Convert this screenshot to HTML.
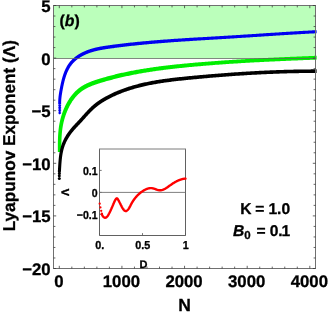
<!DOCTYPE html>
<html><head><meta charset="utf-8"><title>Lyapunov Exponent</title>
<style>html,body{margin:0;padding:0;background:#fff}body{width:328px;height:312px;overflow:hidden}svg text{fill:#000;stroke:#000;stroke-width:.3px;stroke-linejoin:round}</style></head>
<body>
<svg width="328" height="312" viewBox="0 0 328 312" style="display:block;will-change:transform;text-rendering:geometricPrecision;font-family:'Liberation Sans',sans-serif;font-weight:bold">
<rect width="328" height="312" fill="#fff"/>
<rect x="53.5" y="5.5" width="262.0" height="53.0" fill="#bbffbb"/>
<clipPath id="cc"><rect x="50" y="0" width="266.6" height="312"/></clipPath><g clip-path="url(#cc)">
<path d="M61.18,104.46 L61.17,104.15 L61.16,103.86 L61.15,103.56 L61.14,103.27 L61.13,102.98 L61.13,102.69 L61.13,102.39 L61.14,102.10 L61.15,101.81 L61.16,101.53 L61.17,101.24 L61.19,100.95 L61.20,100.66 L61.22,100.38 L61.24,100.09 L61.26,99.80 L61.28,99.52 L61.30,99.23 L61.33,98.95 L61.35,98.67 L61.38,98.38 L61.41,98.10 L61.44,97.81 L61.47,97.53 L61.50,97.25 L61.54,96.96 L61.57,96.68 L61.61,96.40 L61.65,96.12 L61.68,95.83 L61.72,95.55 L61.76,95.27 L61.81,94.98 L61.85,94.70 L61.89,94.41 L61.94,94.13 L61.98,93.84 L62.03,93.56 L62.08,93.27 L62.12,92.99 L62.17,92.70 L62.22,92.41 L62.27,92.13 L62.32,91.84 L62.37,91.55 L62.42,91.26 L62.48,90.97 L62.53,90.68 L62.58,90.39 L62.64,90.10 L62.69,89.80 L62.74,89.51 L62.80,89.22 L62.85,88.93 L62.91,88.63 L62.97,88.34 L63.02,88.05 L63.08,87.75 L63.14,87.46 L63.20,87.16 L63.25,86.87 L63.31,86.57 L63.37,86.28 L63.44,85.98 L63.50,85.69 L63.56,85.39 L63.62,85.10 L63.69,84.80 L63.75,84.51 L63.82,84.21 L63.88,83.92 L63.95,83.63 L64.02,83.33 L64.09,83.04 L64.16,82.74 L64.23,82.45 L64.30,82.16 L64.37,81.87 L64.44,81.57 L64.52,81.28 L64.59,80.99 L64.67,80.70 L64.74,80.41 L64.82,80.12 L64.90,79.83 L64.98,79.54 L65.06,79.25 L65.14,78.96 L65.23,78.67 L65.31,78.39 L65.40,78.10 L65.49,77.82 L65.57,77.53 L65.66,77.25 L65.75,76.96 L65.84,76.68 L65.94,76.40 L66.03,76.12 L66.13,75.84 L66.22,75.56 L66.32,75.28 L66.42,75.00 L66.52,74.73 L66.62,74.45 L66.73,74.18 L66.83,73.91 L66.94,73.63 L67.05,73.36 L67.16,73.09 L67.27,72.82 L67.38,72.56 L67.49,72.29 L67.61,72.03 L67.72,71.76 L67.84,71.50 L67.96,71.24 L68.08,70.98 L68.21,70.72 L68.33,70.46 L68.46,70.21 L68.58,69.95 L68.71,69.70 L68.84,69.45 L68.98,69.20 L69.11,68.95 L69.25,68.71 L69.38,68.46 L69.52,68.22 L69.67,67.98 L69.81,67.74 L69.95,67.50 L70.10,67.26 L70.25,67.03 L70.40,66.79 L70.55,66.56 L70.70,66.33 L70.86,66.11 L71.02,65.88 L71.18,65.66 L71.34,65.43 L71.50,65.21 L71.67,64.99 L71.83,64.78 L72.00,64.56 L72.17,64.35 L72.35,64.14 L72.52,63.93 L72.70,63.72 L72.88,63.52 L73.06,63.31 L73.24,63.11 L73.43,62.91 L73.61,62.71 L73.80,62.52 L74.00,62.32 L74.19,62.13 L74.38,61.93 L74.58,61.74 L74.78,61.55 L74.98,61.37 L75.18,61.18 L75.39,61.00 L75.60,60.82 L75.80,60.63 L76.01,60.46 L76.23,60.28 L76.44,60.10 L76.66,59.93 L76.87,59.75 L77.09,59.58 L77.31,59.41 L77.53,59.25 L77.76,59.08 L77.98,58.91 L78.21,58.75 L78.44,58.59 L78.67,58.43 L78.90,58.27 L79.13,58.11 L79.37,57.96 L79.60,57.80 L79.84,57.65 L80.08,57.50 L80.32,57.35 L80.56,57.20 L80.80,57.06 L81.04,56.91 L81.29,56.77 L81.54,56.63 L81.78,56.48 L82.03,56.35 L82.28,56.21 L82.53,56.07 L82.79,55.94 L83.04,55.81 L83.29,55.67 L83.55,55.54 L83.80,55.42 L84.06,55.29 L84.32,55.16 L84.58,55.04 L84.84,54.92 L85.10,54.80 L85.36,54.68 L85.63,54.56 L85.89,54.44 L86.16,54.33 L86.42,54.21 L86.69,54.10 L86.96,53.99 L87.22,53.88 L87.49,53.77 L87.76,53.66 L88.03,53.56 L88.30,53.45 L88.57,53.35 L88.84,53.25 L89.12,53.15 L89.39,53.05 L89.66,52.96 L89.94,52.86 L90.21,52.77 L90.49,52.67 L90.76,52.58 L91.04,52.49 L91.31,52.40 L91.59,52.32 L91.86,52.23 L92.14,52.15 L92.42,52.06 L92.70,51.98 L92.98,51.90 L93.25,51.82 L93.53,51.74 L93.81,51.66 L94.09,51.58 L94.37,51.51 L94.65,51.44 L94.94,51.36 L95.22,51.29 L95.50,51.22 L95.78,51.15 L96.06,51.08 L96.35,51.01 L96.63,50.94 L96.91,50.88 L97.20,50.81 L97.48,50.75 L97.77,50.69 L98.05,50.62 L98.34,50.56 L98.62,50.50 L98.91,50.44 L99.20,50.38 L99.48,50.32 L99.77,50.27 L100.06,50.21 L100.34,50.16 L100.63,50.10 L100.92,50.04 L101.21,49.99 L101.50,49.94 L101.79,49.88 L102.07,49.83 L102.36,49.78 L102.65,49.73 L102.94,49.68 L103.23,49.63 L103.52,49.58 L103.81,49.53 L104.11,49.48 L104.40,49.44 L104.69,49.39 L104.98,49.34 L105.27,49.30 L105.56,49.25 L105.85,49.21 L106.15,49.16 L106.44,49.12 L106.73,49.07 L107.02,49.03 L107.32,48.98 L107.61,48.94 L107.90,48.90 L108.20,48.85 L108.49,48.81 L108.79,48.77 L109.08,48.73 L109.37,48.69 L109.67,48.64 L109.96,48.60 L110.26,48.56 L110.55,48.52 L110.85,48.48 L111.14,48.44 L111.43,48.40 L111.73,48.36 L112.02,48.32 L112.32,48.28 L113.35,48.13 L114.38,48.00 L115.42,47.86 L116.45,47.72 L117.48,47.59 L118.52,47.45 L119.55,47.32 L120.58,47.19 L121.62,47.06 L122.65,46.94 L123.69,46.81 L124.72,46.69 L125.75,46.57 L126.79,46.45 L127.82,46.33 L128.86,46.21 L129.89,46.09 L130.93,45.97 L131.96,45.86 L133.00,45.75 L134.03,45.64 L135.07,45.53 L136.10,45.42 L137.14,45.31 L138.17,45.20 L139.21,45.10 L140.24,44.99 L141.28,44.89 L142.32,44.79 L143.35,44.69 L144.39,44.59 L145.42,44.49 L146.46,44.39 L147.50,44.30 L148.53,44.20 L149.57,44.11 L150.61,44.01 L151.64,43.92 L152.68,43.83 L153.72,43.74 L154.75,43.65 L155.79,43.56 L156.83,43.47 L157.87,43.39 L158.90,43.30 L159.94,43.22 L160.98,43.13 L162.01,43.05 L163.05,42.97 L164.09,42.89 L165.13,42.81 L166.17,42.73 L167.20,42.65 L168.24,42.57 L169.28,42.49 L170.32,42.41 L171.36,42.34 L172.40,42.26 L173.43,42.19 L174.47,42.11 L175.51,42.04 L176.55,41.97 L177.59,41.89 L178.63,41.82 L179.67,41.75 L180.70,41.68 L181.74,41.61 L182.78,41.54 L183.82,41.47 L184.86,41.40 L185.90,41.33 L186.94,41.26 L187.98,41.20 L189.02,41.13 L190.06,41.06 L191.10,40.99 L192.14,40.93 L193.18,40.86 L194.22,40.80 L195.26,40.73 L196.30,40.67 L197.33,40.60 L198.37,40.54 L199.41,40.47 L200.45,40.41 L201.49,40.34 L202.53,40.28 L203.57,40.22 L204.62,40.15 L205.66,40.09 L206.70,40.03 L207.74,39.96 L208.78,39.90 L209.82,39.84 L210.86,39.77 L211.90,39.71 L212.94,39.65 L213.98,39.58 L215.02,39.52 L216.06,39.46 L217.10,39.39 L218.14,39.33 L219.18,39.27 L220.22,39.20 L221.26,39.14 L222.30,39.08 L223.35,39.02 L224.39,38.95 L225.43,38.89 L226.47,38.83 L227.51,38.77 L228.55,38.70 L229.59,38.64 L230.63,38.57 L231.67,38.51 L232.72,38.44 L233.76,38.38 L234.80,38.31 L235.84,38.25 L236.88,38.18 L237.92,38.12 L238.96,38.05 L240.00,37.98 L241.04,37.92 L242.08,37.85 L243.13,37.78 L244.17,37.72 L245.21,37.65 L246.25,37.58 L247.29,37.51 L248.33,37.45 L249.37,37.38 L250.41,37.31 L251.45,37.24 L252.49,37.17 L253.53,37.11 L254.57,37.04 L255.62,36.97 L256.66,36.90 L257.70,36.83 L258.74,36.76 L259.78,36.70 L260.82,36.63 L261.86,36.56 L262.90,36.49 L263.94,36.42 L264.98,36.35 L266.02,36.29 L267.06,36.22 L268.10,36.15 L269.14,36.08 L270.18,36.01 L271.22,35.95 L272.27,35.88 L273.31,35.81 L274.35,35.74 L275.39,35.68 L276.43,35.61 L277.47,35.54 L278.51,35.48 L279.55,35.41 L280.59,35.34 L281.63,35.28 L282.67,35.21 L283.71,35.15 L284.75,35.08 L285.79,35.02 L286.83,34.95 L287.87,34.89 L288.91,34.82 L289.95,34.76 L290.99,34.70 L292.03,34.63 L293.07,34.57 L294.11,34.51 L295.15,34.45 L296.19,34.39 L297.23,34.32 L298.27,34.26 L299.31,34.20 L300.35,34.14 L301.39,34.08 L302.43,34.02 L303.47,33.97 L304.51,33.91 L305.55,33.85 L306.59,33.79 L307.63,33.74 L308.67,33.68 L309.71,33.62 L310.75,33.57 L311.79,33.51 L312.83,33.46 L313.87,33.41 L314.91,33.35 L315.95,33.30 L316.99,33.25 L318.03,33.20 L319.07,33.15 L318.92,30.05 L317.88,30.10 L316.84,30.15 L315.80,30.21 L314.76,30.26 L313.72,30.31 L312.67,30.37 L311.63,30.42 L310.59,30.47 L309.55,30.53 L308.51,30.58 L307.47,30.64 L306.43,30.70 L305.38,30.76 L304.34,30.81 L303.30,30.87 L302.26,30.93 L301.22,30.99 L300.18,31.05 L299.13,31.11 L298.09,31.17 L297.05,31.23 L296.01,31.29 L294.97,31.35 L293.93,31.41 L292.89,31.48 L291.85,31.54 L290.80,31.60 L289.76,31.67 L288.72,31.73 L287.68,31.79 L286.64,31.86 L285.60,31.92 L284.56,31.99 L283.52,32.05 L282.47,32.12 L281.43,32.18 L280.39,32.25 L279.35,32.32 L278.31,32.38 L277.27,32.45 L276.23,32.52 L275.19,32.58 L274.15,32.65 L273.11,32.72 L272.06,32.79 L271.02,32.85 L269.98,32.92 L268.94,32.99 L267.90,33.06 L266.86,33.12 L265.82,33.19 L264.78,33.26 L263.74,33.33 L262.70,33.40 L261.66,33.47 L260.62,33.53 L259.57,33.60 L258.53,33.67 L257.49,33.74 L256.45,33.81 L255.41,33.88 L254.37,33.94 L253.33,34.01 L252.29,34.08 L251.25,34.15 L250.21,34.22 L249.17,34.29 L248.13,34.35 L247.09,34.42 L246.05,34.49 L245.01,34.56 L243.97,34.62 L242.93,34.69 L241.89,34.76 L240.84,34.82 L239.80,34.89 L238.76,34.96 L237.72,35.02 L236.68,35.09 L235.64,35.16 L234.60,35.22 L233.56,35.29 L232.52,35.35 L231.48,35.42 L230.44,35.48 L229.40,35.54 L228.36,35.61 L227.32,35.67 L226.28,35.73 L225.24,35.80 L224.20,35.86 L223.16,35.92 L222.12,35.99 L221.08,36.05 L220.04,36.11 L219.00,36.17 L217.96,36.23 L216.92,36.29 L215.88,36.35 L214.84,36.41 L213.79,36.47 L212.75,36.53 L211.71,36.59 L210.67,36.65 L209.63,36.71 L208.59,36.77 L207.55,36.83 L206.51,36.89 L205.47,36.95 L204.43,37.01 L203.39,37.07 L202.35,37.13 L201.31,37.19 L200.27,37.25 L199.22,37.31 L198.18,37.37 L197.14,37.43 L196.10,37.49 L195.06,37.56 L194.02,37.62 L192.98,37.68 L191.94,37.74 L190.90,37.80 L189.86,37.87 L188.82,37.93 L187.78,38.00 L186.73,38.06 L185.69,38.12 L184.65,38.19 L183.61,38.26 L182.57,38.32 L181.53,38.39 L180.49,38.46 L179.45,38.52 L178.41,38.59 L177.37,38.66 L176.33,38.73 L175.29,38.80 L174.25,38.87 L173.21,38.94 L172.16,39.01 L171.12,39.08 L170.08,39.16 L169.04,39.23 L168.00,39.31 L166.96,39.38 L165.92,39.46 L164.88,39.53 L163.84,39.61 L162.80,39.69 L161.76,39.77 L160.72,39.85 L159.68,39.93 L158.64,40.01 L157.60,40.09 L156.56,40.18 L155.52,40.26 L154.48,40.34 L153.44,40.43 L152.40,40.52 L151.36,40.61 L150.32,40.69 L149.27,40.78 L148.23,40.88 L147.19,40.97 L146.15,41.06 L145.11,41.16 L144.07,41.25 L143.03,41.35 L141.99,41.45 L140.95,41.54 L139.91,41.64 L138.87,41.75 L137.84,41.85 L136.80,41.95 L135.76,42.06 L134.72,42.16 L133.68,42.27 L132.64,42.38 L131.60,42.49 L130.56,42.60 L129.52,42.71 L128.48,42.83 L127.44,42.94 L126.40,43.06 L125.36,43.18 L124.32,43.30 L123.28,43.42 L122.24,43.54 L121.20,43.66 L120.16,43.79 L119.13,43.92 L118.09,44.05 L117.05,44.18 L116.01,44.31 L114.97,44.44 L113.93,44.58 L112.89,44.71 L111.86,44.85 L111.56,44.89 L111.26,44.93 L110.97,44.97 L110.67,45.01 L110.37,45.05 L110.08,45.09 L109.78,45.13 L109.48,45.17 L109.19,45.21 L108.89,45.25 L108.59,45.30 L108.30,45.34 L108.00,45.38 L107.70,45.42 L107.41,45.46 L107.11,45.51 L106.81,45.55 L106.52,45.59 L106.22,45.64 L105.92,45.68 L105.63,45.72 L105.33,45.77 L105.03,45.81 L104.73,45.86 L104.44,45.91 L104.14,45.95 L103.84,46.00 L103.55,46.05 L103.25,46.10 L102.95,46.15 L102.65,46.19 L102.36,46.25 L102.06,46.30 L101.76,46.35 L101.46,46.40 L101.17,46.45 L100.87,46.51 L100.57,46.56 L100.28,46.61 L99.98,46.67 L99.68,46.73 L99.39,46.79 L99.09,46.84 L98.79,46.90 L98.50,46.96 L98.20,47.02 L97.90,47.09 L97.61,47.15 L97.31,47.21 L97.01,47.28 L96.72,47.35 L96.42,47.41 L96.13,47.48 L95.83,47.55 L95.54,47.62 L95.24,47.69 L94.95,47.76 L94.65,47.84 L94.36,47.91 L94.06,47.99 L93.77,48.07 L93.47,48.14 L93.18,48.22 L92.89,48.30 L92.59,48.39 L92.30,48.47 L92.01,48.55 L91.71,48.64 L91.42,48.73 L91.13,48.82 L90.83,48.91 L90.54,49.00 L90.25,49.09 L89.96,49.19 L89.67,49.28 L89.38,49.38 L89.09,49.48 L88.80,49.58 L88.51,49.68 L88.22,49.79 L87.93,49.89 L87.64,50.00 L87.35,50.11 L87.06,50.22 L86.77,50.33 L86.49,50.44 L86.20,50.56 L85.91,50.67 L85.63,50.79 L85.35,50.91 L85.06,51.03 L84.78,51.15 L84.50,51.28 L84.21,51.40 L83.93,51.53 L83.65,51.66 L83.37,51.79 L83.09,51.92 L82.82,52.06 L82.54,52.19 L82.26,52.33 L81.99,52.47 L81.71,52.61 L81.44,52.75 L81.17,52.90 L80.90,53.05 L80.63,53.19 L80.36,53.34 L80.09,53.49 L79.82,53.65 L79.56,53.80 L79.29,53.96 L79.03,54.12 L78.77,54.28 L78.50,54.44 L78.25,54.61 L77.99,54.77 L77.73,54.94 L77.47,55.11 L77.22,55.28 L76.97,55.45 L76.71,55.63 L76.46,55.81 L76.22,55.99 L75.97,56.17 L75.72,56.35 L75.48,56.54 L75.24,56.72 L75.00,56.91 L74.76,57.10 L74.52,57.29 L74.28,57.49 L74.05,57.69 L73.82,57.88 L73.59,58.08 L73.36,58.29 L73.13,58.49 L72.91,58.70 L72.68,58.91 L72.46,59.12 L72.24,59.33 L72.03,59.54 L71.81,59.76 L71.60,59.98 L71.39,60.20 L71.18,60.42 L70.97,60.65 L70.77,60.88 L70.56,61.11 L70.36,61.34 L70.17,61.57 L69.97,61.81 L69.78,62.04 L69.59,62.28 L69.40,62.52 L69.21,62.77 L69.03,63.01 L68.85,63.26 L68.67,63.51 L68.49,63.76 L68.32,64.01 L68.15,64.26 L67.98,64.52 L67.81,64.78 L67.65,65.03 L67.48,65.29 L67.32,65.56 L67.17,65.82 L67.01,66.08 L66.86,66.35 L66.71,66.61 L66.56,66.88 L66.41,67.15 L66.27,67.42 L66.12,67.70 L65.98,67.97 L65.84,68.24 L65.71,68.52 L65.57,68.80 L65.44,69.07 L65.31,69.35 L65.18,69.63 L65.05,69.91 L64.93,70.20 L64.80,70.48 L64.68,70.76 L64.56,71.05 L64.44,71.34 L64.33,71.62 L64.21,71.91 L64.10,72.20 L63.99,72.49 L63.88,72.78 L63.77,73.07 L63.66,73.36 L63.56,73.65 L63.45,73.95 L63.35,74.24 L63.25,74.54 L63.15,74.83 L63.05,75.13 L62.96,75.42 L62.86,75.72 L62.77,76.02 L62.68,76.32 L62.59,76.61 L62.50,76.91 L62.41,77.21 L62.32,77.51 L62.23,77.81 L62.15,78.11 L62.07,78.41 L61.98,78.71 L61.90,79.02 L61.82,79.32 L61.75,79.62 L61.67,79.92 L61.59,80.22 L61.52,80.53 L61.44,80.83 L61.37,81.13 L61.29,81.43 L61.22,81.74 L61.15,82.04 L61.08,82.34 L61.01,82.65 L60.95,82.95 L60.88,83.25 L60.81,83.55 L60.75,83.86 L60.68,84.16 L60.62,84.46 L60.56,84.76 L60.49,85.06 L60.43,85.37 L60.37,85.67 L60.31,85.97 L60.25,86.27 L60.19,86.57 L60.13,86.87 L60.08,87.17 L60.02,87.47 L59.96,87.77 L59.91,88.07 L59.85,88.36 L59.80,88.66 L59.74,88.96 L59.69,89.25 L59.63,89.55 L59.58,89.85 L59.53,90.14 L59.48,90.43 L59.42,90.73 L59.37,91.02 L59.32,91.32 L59.27,91.61 L59.22,91.90 L59.17,92.20 L59.12,92.49 L59.08,92.78 L59.03,93.08 L58.98,93.37 L58.94,93.67 L58.90,93.96 L58.85,94.25 L58.81,94.55 L58.77,94.84 L58.73,95.14 L58.69,95.43 L58.65,95.73 L58.62,96.02 L58.58,96.32 L58.55,96.62 L58.52,96.91 L58.49,97.21 L58.46,97.51 L58.43,97.81 L58.40,98.11 L58.38,98.41 L58.36,98.71 L58.33,99.01 L58.31,99.31 L58.30,99.61 L58.28,99.92 L58.26,100.22 L58.25,100.52 L58.24,100.83 L58.23,101.14 L58.23,101.44 L58.22,101.75 L58.22,102.06 L58.22,102.37 L58.22,102.68 L58.22,102.99 L58.22,103.31 L58.22,103.62 L58.22,103.94 L58.23,104.25 L58.24,104.56 Z" fill="#0000f2"/>
<path d="M59.7,103.89999999999999 l1.65,1.7 l-1.65,1.7 l-1.65,-1.7 Z" fill="#0000f2"/>
<path d="M59.7,105.5 l1.65,1.7 l-1.65,1.7 l-1.65,-1.7 Z" fill="#0000f2"/>
<path d="M59.7,107.2 l1.65,1.7 l-1.65,1.7 l-1.65,-1.7 Z" fill="#0000f2"/>
<path d="M59.7,109.1 l1.65,1.7 l-1.65,1.7 l-1.65,-1.7 Z" fill="#0000f2"/>
<path d="M59.7,111.2 l1.65,1.7 l-1.65,1.7 l-1.65,-1.7 Z" fill="#0000f2"/>
<path d="M61.35,151.90 L61.35,151.59 L61.35,151.28 L61.35,150.96 L61.35,150.65 L61.35,150.34 L61.35,150.03 L61.35,149.72 L61.35,149.41 L61.35,149.10 L61.35,148.79 L61.35,148.47 L61.35,148.16 L61.35,147.85 L61.35,147.54 L61.35,147.23 L61.35,146.92 L61.35,146.61 L61.36,146.30 L61.36,145.99 L61.36,145.68 L61.36,145.37 L61.37,145.06 L61.37,144.75 L61.37,144.44 L61.38,144.13 L61.38,143.82 L61.39,143.51 L61.39,143.20 L61.40,142.89 L61.41,142.58 L61.41,142.27 L61.42,141.96 L61.43,141.65 L61.43,141.34 L61.44,141.04 L61.45,140.73 L61.46,140.42 L61.47,140.11 L61.48,139.80 L61.49,139.49 L61.50,139.19 L61.52,138.88 L61.53,138.57 L61.54,138.26 L61.56,137.96 L61.57,137.65 L61.59,137.34 L61.61,137.04 L61.62,136.73 L61.64,136.42 L61.66,136.12 L61.68,135.81 L61.70,135.50 L61.72,135.20 L61.74,134.89 L61.76,134.59 L61.79,134.28 L61.81,133.98 L61.84,133.67 L61.86,133.37 L61.89,133.07 L61.92,132.76 L61.95,132.46 L61.98,132.15 L62.01,131.85 L62.04,131.55 L62.07,131.24 L62.11,130.94 L62.14,130.64 L62.18,130.34 L62.21,130.04 L62.25,129.73 L62.29,129.43 L62.33,129.13 L62.37,128.83 L62.41,128.53 L62.46,128.23 L62.50,127.93 L62.55,127.63 L62.59,127.33 L62.64,127.03 L62.69,126.73 L62.74,126.43 L62.79,126.13 L62.85,125.83 L62.90,125.54 L62.96,125.24 L63.01,124.94 L63.07,124.64 L63.13,124.35 L63.19,124.05 L63.25,123.75 L63.32,123.46 L63.38,123.16 L63.45,122.86 L63.51,122.57 L63.58,122.27 L63.65,121.98 L63.72,121.68 L63.79,121.39 L63.87,121.09 L63.94,120.80 L64.02,120.50 L64.09,120.21 L64.17,119.92 L64.25,119.62 L64.33,119.33 L64.41,119.04 L64.50,118.75 L64.58,118.46 L64.67,118.16 L64.75,117.87 L64.84,117.58 L64.93,117.29 L65.02,117.00 L65.11,116.71 L65.21,116.42 L65.30,116.14 L65.40,115.85 L65.49,115.56 L65.59,115.27 L65.69,114.98 L65.79,114.70 L65.90,114.41 L66.00,114.13 L66.11,113.84 L66.21,113.56 L66.32,113.27 L66.43,112.99 L66.54,112.70 L66.65,112.42 L66.76,112.14 L66.88,111.85 L66.99,111.57 L67.11,111.29 L67.23,111.01 L67.35,110.73 L67.47,110.45 L67.59,110.17 L67.71,109.89 L67.84,109.61 L67.96,109.34 L68.09,109.06 L68.22,108.78 L68.35,108.51 L68.48,108.23 L68.61,107.95 L68.75,107.68 L68.88,107.41 L69.02,107.13 L69.15,106.86 L69.29,106.59 L69.43,106.32 L69.58,106.05 L69.72,105.78 L69.86,105.51 L70.01,105.25 L70.16,104.98 L70.31,104.72 L70.46,104.45 L70.61,104.19 L70.76,103.93 L70.91,103.67 L71.07,103.41 L71.23,103.15 L71.38,102.89 L71.54,102.64 L71.70,102.38 L71.87,102.13 L72.03,101.87 L72.19,101.62 L72.36,101.37 L72.53,101.12 L72.70,100.87 L72.87,100.63 L73.04,100.38 L73.21,100.14 L73.39,99.89 L73.57,99.65 L73.74,99.41 L73.92,99.17 L74.10,98.94 L74.29,98.70 L74.47,98.47 L74.65,98.24 L74.84,98.00 L75.03,97.77 L75.22,97.55 L75.41,97.32 L75.60,97.09 L75.79,96.87 L75.99,96.65 L76.18,96.43 L76.38,96.21 L76.58,95.99 L76.78,95.78 L76.98,95.56 L77.18,95.35 L77.38,95.14 L77.59,94.93 L77.80,94.73 L78.00,94.52 L78.21,94.32 L78.42,94.12 L78.64,93.92 L78.85,93.72 L79.06,93.53 L79.28,93.33 L79.50,93.14 L79.72,92.95 L79.94,92.77 L80.16,92.58 L80.38,92.40 L80.61,92.22 L80.83,92.04 L81.06,91.86 L81.29,91.68 L81.52,91.51 L81.75,91.34 L81.98,91.17 L82.21,91.00 L82.45,90.84 L82.69,90.67 L82.92,90.51 L83.16,90.35 L83.41,90.19 L83.65,90.03 L83.89,89.88 L84.14,89.73 L84.39,89.57 L84.63,89.42 L84.88,89.28 L85.14,89.13 L85.39,88.98 L85.64,88.84 L85.90,88.70 L86.15,88.56 L86.41,88.42 L86.67,88.29 L86.93,88.15 L87.19,88.02 L87.45,87.88 L87.72,87.75 L87.98,87.62 L88.25,87.50 L88.52,87.37 L88.78,87.24 L89.05,87.12 L89.32,87.00 L89.60,86.88 L89.87,86.76 L90.14,86.64 L90.42,86.52 L90.69,86.40 L90.97,86.29 L91.25,86.17 L91.53,86.06 L91.81,85.95 L92.09,85.84 L92.37,85.73 L92.65,85.62 L92.94,85.51 L93.22,85.40 L93.50,85.30 L93.79,85.19 L94.08,85.09 L94.36,84.99 L94.65,84.88 L94.94,84.78 L95.23,84.68 L95.52,84.58 L95.81,84.48 L96.10,84.38 L96.39,84.28 L96.69,84.19 L96.98,84.09 L97.27,83.99 L97.57,83.90 L97.86,83.80 L98.16,83.71 L98.45,83.61 L98.75,83.52 L99.04,83.43 L99.34,83.33 L99.64,83.24 L99.93,83.15 L100.23,83.06 L100.53,82.97 L100.83,82.87 L101.12,82.78 L101.42,82.69 L101.72,82.60 L102.02,82.51 L102.32,82.42 L102.61,82.33 L102.91,82.24 L103.21,82.15 L103.51,82.06 L103.81,81.98 L104.86,81.67 L105.90,81.36 L106.95,81.06 L108.00,80.77 L109.05,80.48 L110.10,80.19 L111.15,79.91 L112.20,79.63 L113.26,79.35 L114.31,79.08 L115.36,78.81 L116.42,78.55 L117.48,78.29 L118.53,78.03 L119.59,77.78 L120.65,77.53 L121.70,77.28 L122.76,77.04 L123.82,76.80 L124.88,76.56 L125.94,76.33 L127.00,76.10 L128.07,75.88 L129.13,75.65 L130.19,75.43 L131.26,75.22 L132.32,75.00 L133.39,74.79 L134.45,74.59 L135.52,74.38 L136.59,74.18 L137.65,73.98 L138.72,73.79 L139.79,73.59 L140.86,73.40 L141.93,73.22 L143.00,73.03 L144.07,72.85 L145.14,72.67 L146.21,72.50 L147.28,72.32 L148.35,72.15 L149.43,71.98 L150.50,71.82 L151.57,71.65 L152.65,71.49 L153.72,71.33 L154.80,71.18 L155.88,71.02 L156.95,70.87 L158.03,70.72 L159.10,70.57 L160.18,70.42 L161.26,70.28 L162.34,70.14 L163.42,70.00 L164.50,69.86 L165.57,69.72 L166.65,69.59 L167.73,69.46 L168.81,69.33 L169.89,69.20 L170.98,69.07 L172.06,68.94 L173.14,68.82 L174.22,68.70 L175.30,68.58 L176.39,68.46 L177.47,68.34 L178.55,68.22 L179.63,68.11 L180.72,67.99 L181.80,67.88 L182.89,67.77 L183.97,67.66 L185.06,67.55 L186.14,67.44 L187.22,67.33 L188.31,67.23 L189.40,67.12 L190.48,67.02 L191.57,66.92 L192.65,66.81 L193.74,66.71 L194.82,66.61 L195.91,66.51 L197.00,66.42 L198.08,66.32 L199.17,66.22 L200.26,66.13 L201.34,66.03 L202.43,65.94 L203.52,65.84 L204.61,65.75 L205.69,65.66 L206.78,65.57 L207.87,65.48 L208.96,65.39 L210.04,65.30 L211.13,65.22 L212.22,65.13 L213.31,65.04 L214.39,64.96 L215.48,64.87 L216.57,64.79 L217.66,64.71 L218.75,64.63 L219.84,64.54 L220.93,64.47 L222.01,64.39 L223.10,64.31 L224.19,64.24 L225.28,64.16 L226.37,64.09 L227.46,64.01 L228.55,63.94 L229.64,63.87 L230.73,63.80 L231.82,63.73 L232.91,63.66 L234.00,63.59 L235.09,63.52 L236.18,63.45 L237.27,63.38 L238.36,63.31 L239.45,63.25 L240.54,63.18 L241.63,63.12 L242.72,63.05 L243.81,62.99 L244.90,62.92 L245.99,62.86 L247.08,62.80 L248.17,62.73 L249.26,62.67 L250.35,62.61 L251.44,62.55 L252.53,62.49 L253.62,62.43 L254.71,62.37 L255.80,62.32 L256.89,62.26 L257.99,62.20 L259.08,62.14 L260.17,62.09 L261.26,62.03 L262.35,61.97 L263.44,61.92 L264.53,61.86 L265.62,61.81 L266.71,61.76 L267.80,61.70 L268.89,61.65 L269.99,61.60 L271.08,61.54 L272.17,61.49 L273.26,61.44 L274.35,61.39 L275.44,61.34 L276.53,61.29 L277.62,61.24 L278.71,61.19 L279.81,61.14 L280.90,61.09 L281.99,61.04 L283.08,60.99 L284.17,60.94 L285.26,60.89 L286.35,60.85 L287.44,60.80 L288.53,60.75 L289.63,60.70 L290.72,60.66 L291.81,60.61 L292.90,60.56 L293.99,60.52 L295.08,60.47 L296.17,60.43 L297.26,60.38 L298.35,60.33 L299.44,60.29 L300.54,60.24 L301.63,60.20 L302.72,60.15 L303.81,60.11 L304.90,60.07 L305.99,60.02 L307.08,59.98 L308.17,59.93 L309.26,59.89 L310.35,59.85 L311.44,59.80 L312.53,59.76 L313.62,59.71 L314.71,59.67 L315.80,59.63 L316.89,59.58 L317.98,59.54 L319.08,59.50 L318.92,55.70 L317.83,55.74 L316.74,55.79 L315.65,55.83 L314.56,55.87 L313.47,55.92 L312.38,55.96 L311.29,56.01 L310.20,56.05 L309.11,56.09 L308.02,56.14 L306.93,56.18 L305.84,56.22 L304.74,56.27 L303.65,56.31 L302.56,56.36 L301.47,56.40 L300.38,56.45 L299.29,56.49 L298.20,56.54 L297.10,56.58 L296.01,56.63 L294.92,56.67 L293.83,56.72 L292.74,56.77 L291.65,56.81 L290.55,56.86 L289.46,56.91 L288.37,56.95 L287.28,57.00 L286.19,57.05 L285.09,57.10 L284.00,57.15 L282.91,57.19 L281.82,57.24 L280.73,57.29 L279.63,57.34 L278.54,57.39 L277.45,57.44 L276.36,57.49 L275.26,57.54 L274.17,57.59 L273.08,57.64 L271.99,57.70 L270.90,57.75 L269.80,57.80 L268.71,57.85 L267.62,57.91 L266.53,57.96 L265.43,58.01 L264.34,58.07 L263.25,58.12 L262.16,58.18 L261.06,58.24 L259.97,58.29 L258.88,58.35 L257.79,58.41 L256.69,58.46 L255.60,58.52 L254.51,58.58 L253.42,58.64 L252.32,58.70 L251.23,58.76 L250.14,58.82 L249.05,58.88 L247.95,58.94 L246.86,59.00 L245.77,59.07 L244.68,59.13 L243.59,59.19 L242.49,59.26 L241.40,59.32 L240.31,59.39 L239.22,59.45 L238.12,59.52 L237.03,59.59 L235.94,59.66 L234.85,59.72 L233.76,59.79 L232.66,59.86 L231.57,59.93 L230.48,60.00 L229.39,60.08 L228.30,60.15 L227.21,60.22 L226.11,60.30 L225.02,60.37 L223.93,60.45 L222.84,60.52 L221.75,60.60 L220.66,60.68 L219.56,60.75 L218.47,60.83 L217.38,60.91 L216.29,60.98 L215.20,61.06 L214.11,61.14 L213.02,61.22 L211.92,61.30 L210.83,61.38 L209.74,61.46 L208.65,61.55 L207.56,61.63 L206.47,61.72 L205.38,61.80 L204.29,61.89 L203.20,61.98 L202.11,62.06 L201.02,62.15 L199.93,62.24 L198.84,62.33 L197.75,62.42 L196.66,62.52 L195.57,62.61 L194.48,62.70 L193.39,62.80 L192.30,62.89 L191.21,62.99 L190.12,63.09 L189.03,63.19 L187.94,63.29 L186.85,63.39 L185.76,63.49 L184.67,63.59 L183.58,63.70 L182.49,63.80 L181.40,63.91 L180.31,64.02 L179.22,64.13 L178.13,64.24 L177.05,64.35 L175.96,64.46 L174.87,64.58 L173.78,64.69 L172.69,64.81 L171.60,64.93 L170.52,65.05 L169.43,65.18 L168.34,65.30 L167.25,65.43 L166.17,65.55 L165.08,65.68 L163.99,65.82 L162.90,65.95 L161.82,66.09 L160.73,66.22 L159.65,66.36 L158.56,66.51 L157.47,66.65 L156.39,66.80 L155.30,66.94 L154.22,67.09 L153.13,67.25 L152.05,67.40 L150.97,67.56 L149.88,67.72 L148.80,67.88 L147.71,68.05 L146.63,68.22 L145.55,68.39 L144.47,68.56 L143.38,68.73 L142.30,68.91 L141.22,69.09 L140.14,69.28 L139.06,69.46 L137.98,69.65 L136.90,69.85 L135.82,70.04 L134.74,70.24 L133.66,70.44 L132.58,70.65 L131.51,70.85 L130.43,71.06 L129.35,71.28 L128.27,71.50 L127.20,71.72 L126.12,71.94 L125.05,72.17 L123.97,72.40 L122.90,72.63 L121.82,72.87 L120.75,73.11 L119.68,73.36 L118.60,73.60 L117.53,73.86 L116.46,74.11 L115.39,74.37 L114.32,74.64 L113.25,74.90 L112.18,75.17 L111.11,75.45 L110.04,75.73 L108.98,76.01 L107.91,76.30 L106.84,76.59 L105.78,76.88 L104.71,77.18 L103.65,77.49 L102.58,77.79 L102.28,77.88 L101.97,77.97 L101.67,78.06 L101.37,78.15 L101.06,78.24 L100.76,78.33 L100.46,78.42 L100.16,78.51 L99.85,78.61 L99.55,78.70 L99.25,78.79 L98.94,78.88 L98.64,78.98 L98.34,79.07 L98.04,79.17 L97.73,79.26 L97.43,79.36 L97.13,79.45 L96.82,79.55 L96.52,79.65 L96.22,79.75 L95.91,79.85 L95.61,79.95 L95.31,80.05 L95.00,80.15 L94.70,80.25 L94.40,80.35 L94.10,80.46 L93.79,80.56 L93.49,80.67 L93.19,80.78 L92.89,80.89 L92.59,80.99 L92.29,81.11 L91.99,81.22 L91.69,81.33 L91.39,81.44 L91.09,81.56 L90.79,81.68 L90.49,81.79 L90.19,81.91 L89.89,82.03 L89.60,82.15 L89.30,82.28 L89.01,82.40 L88.71,82.53 L88.42,82.66 L88.12,82.79 L87.83,82.92 L87.54,83.05 L87.24,83.18 L86.95,83.32 L86.66,83.46 L86.37,83.60 L86.08,83.74 L85.79,83.88 L85.51,84.03 L85.22,84.17 L84.94,84.32 L84.65,84.47 L84.37,84.62 L84.09,84.78 L83.80,84.93 L83.52,85.09 L83.24,85.25 L82.97,85.42 L82.69,85.58 L82.41,85.75 L82.14,85.92 L81.86,86.09 L81.59,86.26 L81.32,86.44 L81.05,86.62 L80.78,86.80 L80.52,86.98 L80.25,87.17 L79.99,87.35 L79.72,87.54 L79.46,87.73 L79.20,87.93 L78.95,88.12 L78.69,88.32 L78.43,88.52 L78.18,88.73 L77.93,88.93 L77.68,89.14 L77.44,89.35 L77.19,89.56 L76.95,89.77 L76.70,89.99 L76.46,90.21 L76.23,90.43 L75.99,90.65 L75.75,90.87 L75.52,91.10 L75.29,91.32 L75.06,91.55 L74.83,91.78 L74.61,92.01 L74.38,92.25 L74.16,92.48 L73.94,92.72 L73.72,92.96 L73.50,93.20 L73.29,93.44 L73.07,93.68 L72.86,93.93 L72.65,94.18 L72.44,94.43 L72.23,94.68 L72.03,94.93 L71.82,95.18 L71.62,95.43 L71.42,95.69 L71.22,95.95 L71.03,96.21 L70.83,96.47 L70.64,96.73 L70.45,96.99 L70.26,97.25 L70.07,97.52 L69.88,97.79 L69.70,98.05 L69.51,98.32 L69.33,98.59 L69.15,98.86 L68.97,99.14 L68.80,99.41 L68.62,99.69 L68.45,99.96 L68.28,100.24 L68.11,100.52 L67.94,100.79 L67.77,101.07 L67.61,101.36 L67.44,101.64 L67.28,101.92 L67.12,102.20 L66.96,102.49 L66.80,102.77 L66.65,103.06 L66.49,103.34 L66.34,103.63 L66.19,103.92 L66.04,104.21 L65.89,104.50 L65.75,104.79 L65.60,105.08 L65.46,105.37 L65.32,105.66 L65.18,105.96 L65.04,106.25 L64.90,106.54 L64.77,106.84 L64.63,107.13 L64.50,107.43 L64.37,107.72 L64.24,108.02 L64.11,108.32 L63.98,108.61 L63.86,108.91 L63.73,109.21 L63.61,109.51 L63.49,109.81 L63.37,110.10 L63.25,110.40 L63.13,110.70 L63.02,111.01 L62.90,111.31 L62.79,111.61 L62.68,111.91 L62.57,112.21 L62.46,112.52 L62.35,112.82 L62.24,113.12 L62.14,113.43 L62.04,113.73 L61.93,114.03 L61.83,114.34 L61.74,114.65 L61.64,114.95 L61.54,115.26 L61.45,115.56 L61.35,115.87 L61.26,116.18 L61.17,116.48 L61.08,116.79 L60.99,117.10 L60.91,117.41 L60.82,117.72 L60.74,118.03 L60.66,118.34 L60.57,118.65 L60.49,118.96 L60.42,119.27 L60.34,119.58 L60.26,119.89 L60.19,120.20 L60.12,120.51 L60.04,120.82 L59.97,121.13 L59.90,121.44 L59.84,121.76 L59.77,122.07 L59.71,122.38 L59.64,122.69 L59.58,123.01 L59.52,123.32 L59.46,123.63 L59.40,123.95 L59.35,124.26 L59.29,124.57 L59.24,124.89 L59.18,125.20 L59.13,125.52 L59.08,125.83 L59.03,126.15 L58.98,126.46 L58.94,126.77 L58.89,127.09 L58.85,127.40 L58.81,127.72 L58.77,128.03 L58.73,128.35 L58.69,128.66 L58.65,128.98 L58.61,129.29 L58.58,129.61 L58.54,129.92 L58.51,130.24 L58.48,130.55 L58.45,130.87 L58.42,131.18 L58.39,131.50 L58.36,131.81 L58.33,132.13 L58.30,132.45 L58.28,132.76 L58.25,133.08 L58.23,133.39 L58.21,133.71 L58.19,134.02 L58.17,134.34 L58.15,134.65 L58.13,134.97 L58.11,135.28 L58.09,135.60 L58.07,135.91 L58.06,136.23 L58.04,136.54 L58.03,136.86 L58.01,137.17 L58.00,137.49 L57.99,137.80 L57.98,138.12 L57.97,138.43 L57.96,138.75 L57.95,139.06 L57.94,139.38 L57.93,139.69 L57.92,140.01 L57.91,140.32 L57.90,140.63 L57.90,140.95 L57.89,141.26 L57.89,141.58 L57.88,141.89 L57.88,142.21 L57.87,142.52 L57.87,142.83 L57.86,143.15 L57.86,143.46 L57.86,143.78 L57.86,144.09 L57.85,144.40 L57.85,144.72 L57.85,145.03 L57.85,145.34 L57.85,145.66 L57.85,145.97 L57.85,146.28 L57.85,146.60 L57.84,146.91 L57.84,147.22 L57.85,147.54 L57.85,147.85 L57.85,148.16 L57.85,148.47 L57.85,148.79 L57.85,149.10 L57.85,149.41 L57.85,149.72 L57.85,150.03 L57.85,150.35 L57.85,150.66 L57.85,150.97 L57.85,151.28 L57.85,151.59 L57.85,151.90 Z" fill="#00ee00"/>
<path d="M60.93,171.59 L60.95,171.29 L60.97,170.98 L60.99,170.68 L61.01,170.37 L61.03,170.07 L61.05,169.76 L61.06,169.46 L61.08,169.15 L61.10,168.85 L61.12,168.54 L61.14,168.23 L61.16,167.93 L61.17,167.62 L61.19,167.31 L61.21,167.00 L61.23,166.70 L61.25,166.39 L61.27,166.08 L61.29,165.77 L61.31,165.47 L61.33,165.16 L61.35,164.85 L61.37,164.54 L61.39,164.23 L61.41,163.93 L61.44,163.62 L61.46,163.31 L61.48,163.00 L61.51,162.69 L61.53,162.39 L61.56,162.08 L61.58,161.77 L61.61,161.46 L61.64,161.16 L61.66,160.85 L61.69,160.54 L61.72,160.24 L61.75,159.93 L61.78,159.62 L61.82,159.32 L61.85,159.01 L61.88,158.71 L61.92,158.40 L61.95,158.10 L61.99,157.79 L62.03,157.49 L62.06,157.18 L62.10,156.88 L62.14,156.58 L62.19,156.28 L62.23,155.97 L62.27,155.67 L62.32,155.37 L62.37,155.07 L62.41,154.77 L62.46,154.47 L62.51,154.17 L62.57,153.88 L62.62,153.58 L62.67,153.28 L62.73,152.99 L62.79,152.69 L62.85,152.40 L62.91,152.10 L62.97,151.81 L63.03,151.52 L63.10,151.22 L63.16,150.93 L63.23,150.64 L63.30,150.35 L63.37,150.06 L63.44,149.78 L63.52,149.49 L63.60,149.20 L63.67,148.92 L63.75,148.63 L63.84,148.35 L63.92,148.07 L64.01,147.79 L64.09,147.51 L64.18,147.23 L64.27,146.95 L64.37,146.67 L64.46,146.39 L64.56,146.12 L64.66,145.84 L64.76,145.57 L64.86,145.29 L64.97,145.02 L65.07,144.75 L65.18,144.48 L65.29,144.21 L65.40,143.94 L65.52,143.67 L65.63,143.40 L65.75,143.13 L65.87,142.87 L65.99,142.60 L66.12,142.34 L66.24,142.07 L66.37,141.81 L66.50,141.54 L66.63,141.28 L66.76,141.02 L66.89,140.76 L67.03,140.50 L67.16,140.24 L67.30,139.98 L67.44,139.73 L67.58,139.47 L67.73,139.21 L67.87,138.96 L68.02,138.70 L68.17,138.45 L68.32,138.20 L68.47,137.95 L68.62,137.70 L68.78,137.44 L68.93,137.20 L69.09,136.95 L69.25,136.70 L69.41,136.45 L69.57,136.20 L69.74,135.96 L69.90,135.71 L70.07,135.47 L70.24,135.23 L70.41,134.98 L70.58,134.74 L70.75,134.50 L70.93,134.26 L71.10,134.02 L71.28,133.78 L71.46,133.54 L71.64,133.31 L71.82,133.07 L72.00,132.84 L72.18,132.60 L72.37,132.37 L72.55,132.13 L72.74,131.90 L72.93,131.67 L73.12,131.44 L73.31,131.21 L73.50,130.98 L73.70,130.75 L73.89,130.52 L74.09,130.30 L74.29,130.07 L74.49,129.84 L74.69,129.62 L74.89,129.39 L75.09,129.16 L75.29,128.94 L75.50,128.71 L75.70,128.49 L75.91,128.26 L76.12,128.04 L76.32,127.81 L76.53,127.59 L76.74,127.36 L76.95,127.14 L77.16,126.92 L77.37,126.69 L77.58,126.47 L77.80,126.24 L78.01,126.02 L78.22,125.79 L78.43,125.57 L78.65,125.34 L78.86,125.12 L79.08,124.89 L79.29,124.67 L79.50,124.44 L79.72,124.21 L79.93,123.98 L80.15,123.76 L80.36,123.53 L80.58,123.30 L80.79,123.07 L81.00,122.84 L81.22,122.61 L81.43,122.38 L81.64,122.15 L81.85,121.92 L82.06,121.68 L82.28,121.45 L82.49,121.22 L82.70,120.99 L82.91,120.76 L83.11,120.52 L83.32,120.29 L83.53,120.06 L83.74,119.83 L83.95,119.60 L84.15,119.36 L84.36,119.13 L84.57,118.90 L84.78,118.67 L84.98,118.44 L85.19,118.21 L85.40,117.98 L85.60,117.75 L85.81,117.52 L86.01,117.29 L86.22,117.06 L86.43,116.83 L86.63,116.60 L86.84,116.37 L87.04,116.14 L87.25,115.91 L87.46,115.69 L87.66,115.46 L87.87,115.23 L88.08,115.01 L88.28,114.78 L88.49,114.56 L88.70,114.34 L88.91,114.11 L89.12,113.89 L89.32,113.67 L89.53,113.45 L89.74,113.23 L89.95,113.01 L90.16,112.79 L90.37,112.57 L90.58,112.35 L90.79,112.14 L91.00,111.92 L91.22,111.71 L91.43,111.49 L91.64,111.28 L91.86,111.07 L92.07,110.86 L92.29,110.65 L92.50,110.44 L92.72,110.23 L92.94,110.03 L93.15,109.82 L93.37,109.62 L93.59,109.41 L93.81,109.21 L94.03,109.01 L94.25,108.81 L94.48,108.61 L94.70,108.41 L94.92,108.22 L95.15,108.02 L95.37,107.83 L95.60,107.64 L95.83,107.45 L96.06,107.26 L96.29,107.07 L96.52,106.88 L96.75,106.69 L96.99,106.51 L97.22,106.32 L97.46,106.14 L97.69,105.96 L97.93,105.78 L98.17,105.60 L98.41,105.42 L98.65,105.24 L98.89,105.07 L99.13,104.89 L99.38,104.72 L99.62,104.54 L99.87,104.37 L100.12,104.20 L100.36,104.03 L100.61,103.86 L100.86,103.69 L101.11,103.52 L101.36,103.35 L101.61,103.19 L101.87,103.02 L102.12,102.86 L102.37,102.70 L102.63,102.53 L102.88,102.37 L103.14,102.21 L103.40,102.05 L103.66,101.89 L103.92,101.74 L104.17,101.58 L104.43,101.42 L104.70,101.27 L104.96,101.11 L105.22,100.96 L105.48,100.81 L105.74,100.66 L106.01,100.51 L106.27,100.36 L106.54,100.21 L106.80,100.06 L107.07,99.91 L107.34,99.77 L107.60,99.62 L107.87,99.48 L108.81,98.97 L109.76,98.48 L110.71,98.00 L111.67,97.52 L112.63,97.06 L113.59,96.60 L114.56,96.15 L115.52,95.71 L116.50,95.28 L117.47,94.86 L118.45,94.44 L119.43,94.04 L120.41,93.64 L121.40,93.25 L122.39,92.87 L123.38,92.49 L124.38,92.12 L125.37,91.76 L126.37,91.41 L127.38,91.07 L128.38,90.73 L129.39,90.40 L130.40,90.08 L131.41,89.76 L132.43,89.45 L133.44,89.15 L134.46,88.85 L135.49,88.56 L136.51,88.28 L137.54,88.00 L138.57,87.73 L139.60,87.46 L140.63,87.20 L141.67,86.95 L142.70,86.70 L143.74,86.46 L144.78,86.22 L145.83,85.99 L146.87,85.76 L147.92,85.54 L148.97,85.33 L150.02,85.11 L151.07,84.91 L152.12,84.71 L153.18,84.51 L154.23,84.32 L155.29,84.13 L156.35,83.94 L157.41,83.76 L158.47,83.59 L159.53,83.42 L160.60,83.25 L161.66,83.08 L162.73,82.92 L163.80,82.77 L164.87,82.61 L165.94,82.46 L167.01,82.32 L168.08,82.17 L169.15,82.03 L170.23,81.89 L171.30,81.76 L172.38,81.62 L173.45,81.49 L174.53,81.36 L175.60,81.24 L176.68,81.11 L177.76,80.99 L178.84,80.87 L179.92,80.75 L181.00,80.64 L182.08,80.52 L183.16,80.41 L184.24,80.30 L185.32,80.19 L186.40,80.08 L187.48,79.97 L188.56,79.86 L189.64,79.76 L190.72,79.65 L191.80,79.54 L192.88,79.44 L193.96,79.34 L195.04,79.23 L196.12,79.13 L197.20,79.03 L198.28,78.93 L199.36,78.83 L200.44,78.73 L201.52,78.63 L202.60,78.53 L203.67,78.43 L204.75,78.34 L205.83,78.24 L206.91,78.14 L207.99,78.05 L209.06,77.96 L210.14,77.86 L211.22,77.77 L212.29,77.68 L213.37,77.59 L214.45,77.50 L215.52,77.41 L216.60,77.32 L217.68,77.23 L218.75,77.14 L219.83,77.06 L220.90,76.97 L221.98,76.89 L223.06,76.81 L224.13,76.72 L225.21,76.64 L226.28,76.56 L227.36,76.48 L228.43,76.40 L229.51,76.32 L230.58,76.25 L231.66,76.17 L232.73,76.09 L233.81,76.02 L234.88,75.94 L235.96,75.87 L237.03,75.80 L238.11,75.72 L239.18,75.65 L240.26,75.58 L241.33,75.51 L242.41,75.45 L243.48,75.38 L244.56,75.31 L245.63,75.24 L246.71,75.18 L247.78,75.12 L248.86,75.05 L249.93,74.99 L251.01,74.93 L252.08,74.87 L253.16,74.81 L254.23,74.75 L255.31,74.69 L256.38,74.63 L257.46,74.58 L258.53,74.52 L259.61,74.47 L260.68,74.41 L261.76,74.36 L262.83,74.31 L263.91,74.26 L264.98,74.21 L266.06,74.16 L267.14,74.11 L268.21,74.06 L269.29,74.02 L270.37,73.97 L271.44,73.93 L272.52,73.88 L273.59,73.84 L274.67,73.80 L275.75,73.76 L276.83,73.72 L277.90,73.68 L278.98,73.64 L280.06,73.60 L281.14,73.57 L282.21,73.53 L283.29,73.50 L284.37,73.47 L285.45,73.43 L286.53,73.40 L287.61,73.37 L288.68,73.34 L289.76,73.32 L290.84,73.29 L291.92,73.26 L293.00,73.24 L294.08,73.21 L295.16,73.19 L296.24,73.17 L297.32,73.15 L298.41,73.13 L299.49,73.11 L300.57,73.09 L301.65,73.07 L302.73,73.06 L303.81,73.04 L304.90,73.03 L305.98,73.02 L307.06,73.01 L308.15,73.00 L309.23,72.99 L310.32,72.98 L311.40,72.97 L312.48,72.96 L313.57,72.96 L314.65,72.96 L315.74,72.95 L316.83,72.95 L317.91,72.95 L319.00,72.95 L319.00,69.35 L317.91,69.35 L316.82,69.35 L315.73,69.35 L314.64,69.36 L313.55,69.36 L312.47,69.36 L311.38,69.37 L310.29,69.38 L309.20,69.39 L308.11,69.40 L307.03,69.41 L305.94,69.42 L304.85,69.43 L303.77,69.44 L302.68,69.46 L301.60,69.48 L300.51,69.49 L299.43,69.51 L298.34,69.53 L297.26,69.55 L296.17,69.57 L295.09,69.59 L294.00,69.61 L292.92,69.64 L291.84,69.66 L290.75,69.69 L289.67,69.72 L288.59,69.75 L287.51,69.77 L286.42,69.80 L285.34,69.84 L284.26,69.87 L283.18,69.90 L282.10,69.93 L281.02,69.97 L279.94,70.01 L278.86,70.04 L277.77,70.08 L276.69,70.12 L275.61,70.16 L274.53,70.20 L273.45,70.24 L272.37,70.29 L271.29,70.33 L270.21,70.37 L269.14,70.42 L268.06,70.47 L266.98,70.51 L265.90,70.56 L264.82,70.61 L263.74,70.66 L262.66,70.71 L261.58,70.76 L260.50,70.82 L259.43,70.87 L258.35,70.93 L257.27,70.98 L256.19,71.04 L255.11,71.10 L254.04,71.15 L252.96,71.21 L251.88,71.27 L250.80,71.33 L249.72,71.40 L248.65,71.46 L247.57,71.52 L246.49,71.59 L245.41,71.65 L244.34,71.72 L243.26,71.79 L242.18,71.85 L241.10,71.92 L240.03,71.99 L238.95,72.06 L237.87,72.13 L236.79,72.21 L235.71,72.28 L234.64,72.35 L233.56,72.43 L232.48,72.50 L231.40,72.58 L230.33,72.66 L229.25,72.73 L228.17,72.81 L227.09,72.89 L226.01,72.97 L224.94,73.05 L223.86,73.14 L222.78,73.22 L221.70,73.30 L220.62,73.39 L219.54,73.47 L218.47,73.55 L217.39,73.64 L216.31,73.73 L215.23,73.81 L214.15,73.90 L213.07,73.99 L211.99,74.08 L210.91,74.17 L209.83,74.26 L208.75,74.35 L207.67,74.44 L206.59,74.54 L205.51,74.63 L204.43,74.73 L203.35,74.82 L202.27,74.92 L201.19,75.01 L200.11,75.11 L199.03,75.21 L197.95,75.31 L196.86,75.41 L195.78,75.51 L194.70,75.61 L193.62,75.71 L192.54,75.81 L191.45,75.92 L190.37,76.02 L189.29,76.12 L188.20,76.23 L187.12,76.33 L186.04,76.44 L184.95,76.55 L183.87,76.66 L182.78,76.77 L181.70,76.88 L180.61,77.00 L179.53,77.11 L178.44,77.23 L177.35,77.35 L176.27,77.47 L175.18,77.59 L174.10,77.72 L173.01,77.84 L171.93,77.97 L170.85,78.11 L169.76,78.24 L168.68,78.38 L167.60,78.52 L166.51,78.66 L165.43,78.81 L164.35,78.96 L163.27,79.12 L162.19,79.27 L161.11,79.44 L160.03,79.60 L158.95,79.77 L157.88,79.94 L156.80,80.12 L155.72,80.30 L154.65,80.48 L153.58,80.67 L152.51,80.87 L151.43,81.07 L150.36,81.27 L149.30,81.48 L148.23,81.69 L147.16,81.91 L146.10,82.14 L145.03,82.36 L143.97,82.60 L142.91,82.84 L141.85,83.09 L140.79,83.34 L139.74,83.60 L138.68,83.86 L137.63,84.13 L136.58,84.41 L135.53,84.69 L134.48,84.98 L133.44,85.27 L132.40,85.58 L131.35,85.89 L130.31,86.20 L129.28,86.53 L128.24,86.86 L127.21,87.20 L126.18,87.54 L125.15,87.90 L124.12,88.26 L123.10,88.63 L122.08,89.00 L121.06,89.39 L120.04,89.78 L119.03,90.18 L118.02,90.59 L117.01,91.01 L116.00,91.44 L115.00,91.87 L114.00,92.32 L113.00,92.77 L112.01,93.23 L111.02,93.71 L110.03,94.19 L109.04,94.68 L108.06,95.18 L107.08,95.69 L106.11,96.21 L105.83,96.36 L105.55,96.51 L105.28,96.67 L105.00,96.82 L104.72,96.97 L104.45,97.13 L104.17,97.29 L103.90,97.44 L103.62,97.60 L103.35,97.76 L103.08,97.92 L102.81,98.08 L102.53,98.25 L102.26,98.41 L101.99,98.57 L101.72,98.74 L101.45,98.91 L101.18,99.08 L100.91,99.24 L100.65,99.41 L100.38,99.58 L100.11,99.76 L99.85,99.93 L99.58,100.10 L99.32,100.28 L99.06,100.46 L98.79,100.63 L98.53,100.81 L98.27,100.99 L98.01,101.18 L97.75,101.36 L97.49,101.54 L97.23,101.73 L96.98,101.91 L96.72,102.10 L96.47,102.29 L96.21,102.48 L95.96,102.67 L95.71,102.86 L95.46,103.06 L95.21,103.25 L94.96,103.45 L94.71,103.65 L94.46,103.84 L94.22,104.04 L93.97,104.25 L93.73,104.45 L93.48,104.65 L93.24,104.86 L93.00,105.07 L92.76,105.27 L92.53,105.48 L92.29,105.69 L92.05,105.90 L91.82,106.12 L91.59,106.33 L91.35,106.54 L91.12,106.76 L90.89,106.97 L90.67,107.19 L90.44,107.41 L90.21,107.63 L89.99,107.85 L89.76,108.07 L89.54,108.29 L89.31,108.51 L89.09,108.73 L88.87,108.95 L88.65,109.18 L88.43,109.40 L88.21,109.62 L88.00,109.85 L87.78,110.08 L87.56,110.30 L87.35,110.53 L87.13,110.76 L86.92,110.98 L86.71,111.21 L86.49,111.44 L86.28,111.67 L86.07,111.90 L85.86,112.13 L85.65,112.36 L85.43,112.59 L85.22,112.82 L85.01,113.05 L84.81,113.28 L84.60,113.51 L84.39,113.74 L84.18,113.97 L83.97,114.20 L83.76,114.43 L83.56,114.67 L83.35,114.90 L83.14,115.13 L82.93,115.36 L82.73,115.59 L82.52,115.82 L82.31,116.05 L82.11,116.29 L81.90,116.52 L81.70,116.75 L81.49,116.98 L81.28,117.21 L81.08,117.44 L80.87,117.67 L80.66,117.90 L80.46,118.13 L80.25,118.36 L80.04,118.58 L79.83,118.81 L79.63,119.04 L79.42,119.27 L79.21,119.49 L79.00,119.72 L78.79,119.95 L78.58,120.17 L78.37,120.40 L78.16,120.62 L77.95,120.85 L77.74,121.07 L77.53,121.30 L77.32,121.52 L77.11,121.75 L76.89,121.97 L76.68,122.20 L76.47,122.42 L76.25,122.65 L76.04,122.87 L75.83,123.10 L75.61,123.32 L75.40,123.55 L75.18,123.78 L74.97,124.01 L74.76,124.23 L74.54,124.46 L74.33,124.69 L74.11,124.92 L73.90,125.15 L73.69,125.38 L73.48,125.61 L73.26,125.84 L73.05,126.08 L72.84,126.31 L72.63,126.54 L72.42,126.78 L72.21,127.01 L72.01,127.25 L71.80,127.49 L71.59,127.73 L71.39,127.97 L71.18,128.21 L70.98,128.45 L70.77,128.69 L70.57,128.94 L70.37,129.18 L70.17,129.43 L69.97,129.68 L69.78,129.93 L69.58,130.17 L69.39,130.42 L69.20,130.68 L69.00,130.93 L68.81,131.18 L68.63,131.43 L68.44,131.69 L68.25,131.95 L68.07,132.20 L67.89,132.46 L67.71,132.72 L67.53,132.98 L67.35,133.24 L67.17,133.50 L67.00,133.76 L66.82,134.03 L66.65,134.29 L66.48,134.56 L66.31,134.82 L66.14,135.09 L65.98,135.36 L65.81,135.63 L65.65,135.90 L65.49,136.17 L65.33,136.44 L65.17,136.71 L65.02,136.99 L64.86,137.26 L64.71,137.54 L64.56,137.81 L64.41,138.09 L64.27,138.37 L64.12,138.65 L63.98,138.93 L63.84,139.21 L63.70,139.49 L63.56,139.78 L63.42,140.06 L63.29,140.35 L63.16,140.63 L63.03,140.92 L62.90,141.21 L62.77,141.50 L62.65,141.79 L62.53,142.08 L62.41,142.37 L62.29,142.66 L62.17,142.95 L62.06,143.25 L61.94,143.54 L61.83,143.84 L61.73,144.14 L61.62,144.43 L61.52,144.73 L61.41,145.03 L61.31,145.33 L61.22,145.63 L61.12,145.94 L61.03,146.24 L60.94,146.54 L60.85,146.85 L60.76,147.15 L60.68,147.46 L60.60,147.76 L60.51,148.07 L60.44,148.38 L60.36,148.68 L60.28,148.99 L60.21,149.30 L60.14,149.61 L60.07,149.92 L60.00,150.23 L59.94,150.54 L59.87,150.85 L59.81,151.16 L59.75,151.47 L59.69,151.78 L59.63,152.09 L59.58,152.41 L59.52,152.72 L59.47,153.03 L59.42,153.34 L59.37,153.66 L59.32,153.97 L59.27,154.28 L59.23,154.60 L59.18,154.91 L59.14,155.23 L59.10,155.54 L59.06,155.85 L59.02,156.17 L58.98,156.48 L58.94,156.80 L58.90,157.11 L58.87,157.43 L58.83,157.74 L58.80,158.06 L58.77,158.37 L58.73,158.69 L58.70,159.00 L58.67,159.32 L58.64,159.63 L58.62,159.95 L58.59,160.26 L58.56,160.58 L58.54,160.89 L58.51,161.20 L58.49,161.52 L58.46,161.83 L58.44,162.15 L58.41,162.46 L58.39,162.77 L58.37,163.09 L58.35,163.40 L58.33,163.71 L58.31,164.02 L58.29,164.34 L58.27,164.65 L58.25,164.96 L58.23,165.27 L58.21,165.58 L58.19,165.89 L58.17,166.20 L58.15,166.51 L58.13,166.82 L58.11,167.13 L58.10,167.43 L58.08,167.74 L58.06,168.05 L58.04,168.36 L58.02,168.66 L58.00,168.97 L57.99,169.27 L57.97,169.58 L57.95,169.88 L57.93,170.18 L57.91,170.49 L57.89,170.79 L57.87,171.09 L57.85,171.39 Z M57.85,171.49 a1.54,1.54 0 1 0 3.09,0 a1.54,1.54 0 1 0 -3.09,0 Z" fill="#000"/>
<circle cx="59.35" cy="173.5" r="1.5" fill="#000"/>
<circle cx="59.3" cy="175.8" r="1.5" fill="#000"/>
<circle cx="59.3" cy="178.6" r="1.5" fill="#000"/>
</g>
<line x1="53.5" x2="315.5" y1="58.5" y2="58.5" stroke="#606060" stroke-width="0.75"/>
<rect x="53.5" y="5.5" width="262.0" height="263.0" fill="none" stroke="#707070" stroke-width="1"/>
<path d="M59.30,268.5 v-2.7 M59.30,5.5 v2.7 M71.83,268.5 v-1.9 M71.83,5.5 v1.9 M84.35,268.5 v-1.9 M84.35,5.5 v1.9 M96.88,268.5 v-1.9 M96.88,5.5 v1.9 M109.40,268.5 v-1.9 M109.40,5.5 v1.9 M121.93,268.5 v-2.7 M121.93,5.5 v2.7 M134.46,268.5 v-1.9 M134.46,5.5 v1.9 M146.98,268.5 v-1.9 M146.98,5.5 v1.9 M159.51,268.5 v-1.9 M159.51,5.5 v1.9 M172.03,268.5 v-1.9 M172.03,5.5 v1.9 M184.56,268.5 v-2.7 M184.56,5.5 v2.7 M197.09,268.5 v-1.9 M197.09,5.5 v1.9 M209.61,268.5 v-1.9 M209.61,5.5 v1.9 M222.14,268.5 v-1.9 M222.14,5.5 v1.9 M234.66,268.5 v-1.9 M234.66,5.5 v1.9 M247.19,268.5 v-2.7 M247.19,5.5 v2.7 M259.72,268.5 v-1.9 M259.72,5.5 v1.9 M272.24,268.5 v-1.9 M272.24,5.5 v1.9 M284.77,268.5 v-1.9 M284.77,5.5 v1.9 M297.29,268.5 v-1.9 M297.29,5.5 v1.9 M309.82,268.5 v-2.7 M309.82,5.5 v2.7 M53.5,268.50 h2.7 M315.5,268.50 h-2.7 M53.5,257.98 h1.9 M315.5,257.98 h-1.9 M53.5,247.46 h1.9 M315.5,247.46 h-1.9 M53.5,236.94 h1.9 M315.5,236.94 h-1.9 M53.5,226.42 h1.9 M315.5,226.42 h-1.9 M53.5,215.90 h2.7 M315.5,215.90 h-2.7 M53.5,205.38 h1.9 M315.5,205.38 h-1.9 M53.5,194.86 h1.9 M315.5,194.86 h-1.9 M53.5,184.34 h1.9 M315.5,184.34 h-1.9 M53.5,173.82 h1.9 M315.5,173.82 h-1.9 M53.5,163.30 h2.7 M315.5,163.30 h-2.7 M53.5,152.78 h1.9 M315.5,152.78 h-1.9 M53.5,142.26 h1.9 M315.5,142.26 h-1.9 M53.5,131.74 h1.9 M315.5,131.74 h-1.9 M53.5,121.22 h1.9 M315.5,121.22 h-1.9 M53.5,110.70 h2.7 M315.5,110.70 h-2.7 M53.5,100.18 h1.9 M315.5,100.18 h-1.9 M53.5,89.66 h1.9 M315.5,89.66 h-1.9 M53.5,79.14 h1.9 M315.5,79.14 h-1.9 M53.5,68.62 h1.9 M315.5,68.62 h-1.9 M53.5,58.10 h2.7 M315.5,58.10 h-2.7 M53.5,47.58 h1.9 M315.5,47.58 h-1.9 M53.5,37.06 h1.9 M315.5,37.06 h-1.9 M53.5,26.54 h1.9 M315.5,26.54 h-1.9 M53.5,16.02 h1.9 M315.5,16.02 h-1.9 M53.5,5.50 h2.7 M315.5,5.50 h-2.7" stroke="#333" stroke-width="0.75" fill="none"/>
<text x="58.80" y="287" font-size="16.8" text-anchor="middle">0</text>
<text x="121.43" y="287" font-size="16.8" text-anchor="middle">1000</text>
<text x="184.06" y="287" font-size="16.8" text-anchor="middle">2000</text>
<text x="246.69" y="287" font-size="16.8" text-anchor="middle">3000</text>
<text x="309.32" y="287" font-size="16.8" text-anchor="middle">4000</text>
<text x="50.7" y="275.00" font-size="16.8" text-anchor="end">−20</text>
<text x="50.7" y="222.40" font-size="16.8" text-anchor="end">−15</text>
<text x="50.7" y="169.80" font-size="16.8" text-anchor="end">−10</text>
<text x="50.7" y="117.20" font-size="16.8" text-anchor="end">−5</text>
<text x="50.7" y="64.60" font-size="16.8" text-anchor="end">0</text>
<text x="50.7" y="12.00" font-size="16.8" text-anchor="end">5</text>
<text x="184.5" y="311.3" font-size="17.5" text-anchor="middle">N</text>
<text transform="translate(14.6,135.7) rotate(-90)" font-size="17.2" text-anchor="middle">Lyapunov Exponent (Λ)</text>
<text x="59.5" y="26.2" font-size="15.8">(<tspan font-style="italic">b</tspan>)</text>
<text x="290.1" y="213.6" font-size="15.6" text-anchor="end" word-spacing="-0.4">K = 1.0</text>
<text x="232.9" y="236.4" font-size="15.6"><tspan font-style="italic">B</tspan><tspan font-size="11.5" dy="2.6">0</tspan></text>
<text x="290.1" y="236.4" font-size="15.6" text-anchor="end" word-spacing="-0.3">= 0.<tspan dx="-1.3">1</tspan></text>
<path d="M99.5,149.0 V235.5 H185.5 V149.0" fill="none" stroke="#585858" stroke-width="0.95"/>
<path d="M99.0,149.0 H186.0" fill="none" stroke="#7a7a7a" stroke-width="1"/>
<path d="M99.50,235.5 v-2.4 M142.50,235.5 v-2.4 M185.50,235.5 v-2.4 M99.5,214.40 h2.2 M99.5,192.40 h2.2 M99.5,170.40 h2.2" stroke="#555" stroke-width="0.8" fill="none"/>
<line x1="99.5" x2="185.5" y1="192.4" y2="192.4" stroke="#707070" stroke-width="0.9"/>
<path d="M101.80,213.60 L101.82,213.88 L101.89,214.20 L102.00,214.56 L102.16,214.94 L102.34,215.33 L102.56,215.73 L102.82,216.11 L103.09,216.48 L103.39,216.82 L103.71,217.13 L104.04,217.38 L104.38,217.58 L104.74,217.71 L105.09,217.76 L105.45,217.72 L105.81,217.61 L106.16,217.42 L106.49,217.19 L106.81,216.91 L107.11,216.61 L107.38,216.30 L107.64,215.97 L107.87,215.63 L108.09,215.29 L108.30,214.94 L108.50,214.59 L108.70,214.24 L108.89,213.89 L109.08,213.54 L109.26,213.19 L109.45,212.84 L109.62,212.49 L109.80,212.14 L109.97,211.79 L110.14,211.44 L110.31,211.09 L110.47,210.74 L110.63,210.39 L110.79,210.04 L110.95,209.69 L111.11,209.34 L111.27,208.99 L111.42,208.64 L111.58,208.28 L111.73,207.93 L111.88,207.57 L112.04,207.22 L112.19,206.86 L112.34,206.50 L112.50,206.14 L112.65,205.78 L112.80,205.41 L112.96,205.05 L113.12,204.68 L113.27,204.31 L113.43,203.94 L113.59,203.57 L113.75,203.19 L113.92,202.81 L114.08,202.43 L114.25,202.05 L114.42,201.66 L114.60,201.28 L114.78,200.90 L114.97,200.52 L115.17,200.16 L115.38,199.81 L115.60,199.47 L115.83,199.15 L116.08,198.85 L116.35,198.58 L116.62,198.38 L116.88,198.31 L117.13,198.38 L117.37,198.58 L117.60,198.88 L117.82,199.21 L118.03,199.55 L118.24,199.90 L118.44,200.24 L118.64,200.59 L118.83,200.94 L119.02,201.29 L119.21,201.64 L119.39,202.00 L119.58,202.35 L119.76,202.70 L119.93,203.06 L120.11,203.42 L120.28,203.77 L120.46,204.13 L120.64,204.48 L120.81,204.84 L120.99,205.20 L121.17,205.55 L121.35,205.91 L121.53,206.26 L121.71,206.61 L121.90,206.96 L122.09,207.31 L122.29,207.66 L122.49,208.01 L122.70,208.35 L122.91,208.69 L123.13,209.02 L123.36,209.35 L123.61,209.67 L123.88,209.97 L124.16,210.26 L124.46,210.54 L124.78,210.79 L125.12,210.98 L125.47,211.11 L125.82,211.13 L126.17,211.05 L126.52,210.89 L126.85,210.66 L127.18,210.40 L127.48,210.13 L127.77,209.85 L128.04,209.55 L128.30,209.25 L128.54,208.94 L128.77,208.62 L128.99,208.29 L129.20,207.96 L129.40,207.63 L129.59,207.28 L129.78,206.94 L129.96,206.59 L130.14,206.24 L130.32,205.88 L130.50,205.53 L130.67,205.17 L130.85,204.82 L131.03,204.47 L131.21,204.11 L131.40,203.76 L131.59,203.41 L131.79,203.07 L131.99,202.72 L132.19,202.38 L132.39,202.04 L132.60,201.70 L132.81,201.36 L133.03,201.02 L133.25,200.69 L133.47,200.36 L133.69,200.03 L133.92,199.70 L134.15,199.38 L134.39,199.06 L134.63,198.74 L134.87,198.42 L135.11,198.11 L135.36,197.80 L135.61,197.49 L135.87,197.19 L136.13,196.88 L136.39,196.59 L136.65,196.29 L136.92,196.00 L137.19,195.71 L137.47,195.43 L137.74,195.14 L138.02,194.87 L138.31,194.59 L138.59,194.32 L138.88,194.05 L139.18,193.79 L139.47,193.53 L139.77,193.28 L140.08,193.03 L140.38,192.78 L140.69,192.54 L141.00,192.30 L141.32,192.07 L141.63,191.84 L141.96,191.61 L142.28,191.39 L142.61,191.18 L142.94,190.97 L143.28,190.76 L143.62,190.56 L143.96,190.36 L144.31,190.17 L144.66,189.98 L145.01,189.79 L145.37,189.61 L145.73,189.44 L146.10,189.27 L146.47,189.11 L146.85,188.95 L147.22,188.81 L147.61,188.67 L147.99,188.55 L148.37,188.44 L148.76,188.34 L149.15,188.26 L149.53,188.19 L149.92,188.15 L150.31,188.12 L150.70,188.11 L151.09,188.11 L151.48,188.14 L151.87,188.18 L152.26,188.24 L152.65,188.31 L153.03,188.40 L153.42,188.50 L153.81,188.60 L154.19,188.72 L154.57,188.84 L154.96,188.98 L155.34,189.11 L155.72,189.25 L156.10,189.39 L156.48,189.53 L156.85,189.67 L157.23,189.80 L157.61,189.92 L157.99,190.03 L158.37,190.12 L158.75,190.20 L159.14,190.26 L159.53,190.30 L159.92,190.31 L160.31,190.30 L160.70,190.27 L161.09,190.22 L161.49,190.15 L161.88,190.06 L162.27,189.95 L162.65,189.83 L163.03,189.70 L163.41,189.55 L163.78,189.39 L164.15,189.23 L164.51,189.05 L164.86,188.87 L165.21,188.68 L165.55,188.48 L165.89,188.28 L166.22,188.07 L166.55,187.85 L166.88,187.64 L167.20,187.41 L167.52,187.19 L167.84,186.96 L168.16,186.74 L168.48,186.51 L168.80,186.28 L169.13,186.05 L169.45,185.82 L169.77,185.59 L170.09,185.36 L170.42,185.13 L170.74,184.90 L171.07,184.68 L171.40,184.45 L171.73,184.23 L172.06,184.01 L172.39,183.79 L172.73,183.57 L173.06,183.35 L173.40,183.14 L173.73,182.93 L174.07,182.72 L174.41,182.52 L174.75,182.32 L175.10,182.12 L175.44,181.92 L175.79,181.73 L176.14,181.55 L176.49,181.36 L176.84,181.18 L177.19,181.01 L177.55,180.84 L177.91,180.67 L178.27,180.51 L178.63,180.35 L178.99,180.20 L179.35,180.06 L179.72,179.92 L180.09,179.78 L180.46,179.65 L180.84,179.53 L181.21,179.42 L181.59,179.31 L181.97,179.20 L182.35,179.11 L182.74,179.02 L183.12,178.93 L183.51,178.86 L183.91,178.79 L184.30,178.73 L184.70,178.68 L185.10,178.64 L185.50,178.60" fill="none" stroke="#ff0000" stroke-width="2.4" stroke-linecap="round" stroke-linejoin="round"/>
<circle cx="99.7" cy="203.7" r="1.15" fill="#ff0000"/>
<circle cx="100.4" cy="207.4" r="1.15" fill="#ff0000"/>
<circle cx="101.2" cy="210.8" r="1.15" fill="#ff0000"/>
<text transform="translate(97.6,219.30) scale(0.91,1)" font-size="11.6" text-anchor="end">−0.1</text>
<text transform="translate(97.6,197.30) scale(0.91,1)" font-size="11.6" text-anchor="end">0</text>
<text transform="translate(97.6,175.30) scale(0.91,1)" font-size="11.6" text-anchor="end">0.1</text>
<text transform="translate(99.70,249.3) scale(0.93,1)" font-size="11.6" text-anchor="middle">0.</text>
<text transform="translate(142.70,249.3) scale(0.93,1)" font-size="11.6" text-anchor="middle">0.5</text>
<text transform="translate(185.70,249.3) scale(0.93,1)" font-size="11.6" text-anchor="middle">1</text>
<text x="143.4" y="267.6" font-size="11" text-anchor="middle">D</text>
<text transform="translate(68.8,192.4) rotate(-90)" font-size="11" text-anchor="middle">Λ</text>
</svg>
</body></html>
